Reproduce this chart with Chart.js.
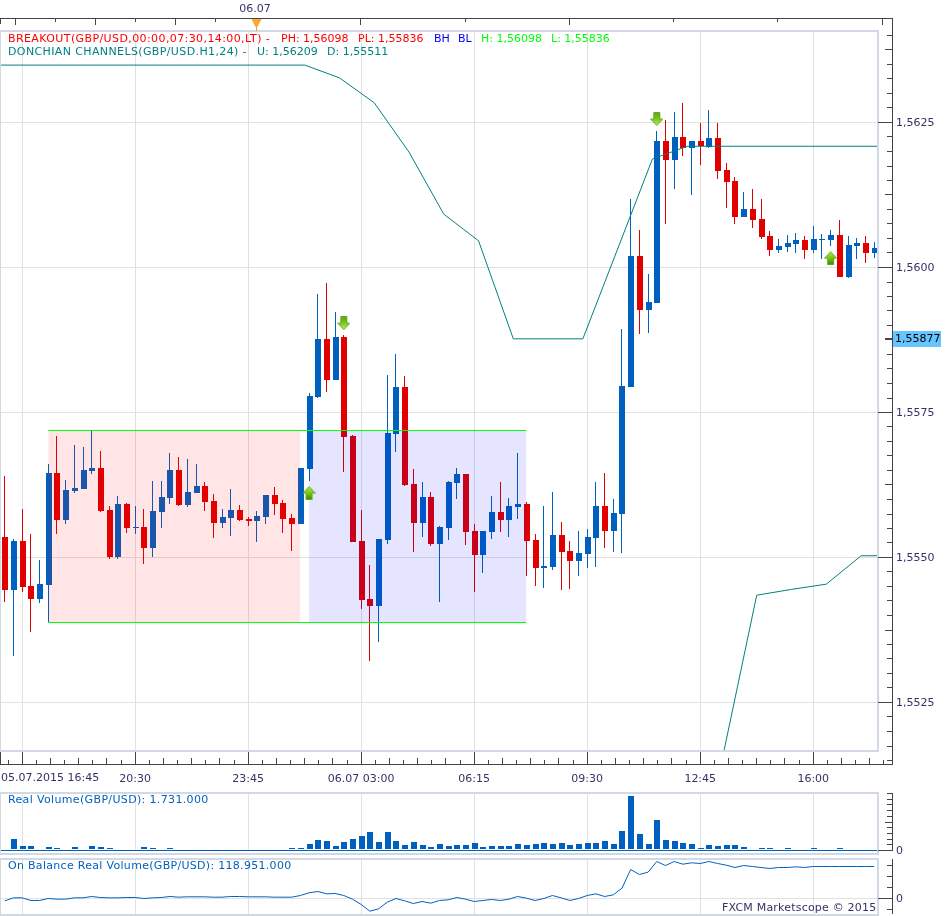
<!DOCTYPE html>
<html><head><meta charset="utf-8">
<style>html,body{margin:0;padding:0;background:#fff;width:950px;height:916px;overflow:hidden}
canvas{position:absolute;left:0;top:0}</style>
<script src="https://cdn.jsdelivr.net/npm/chart.js@4"></script>
</head><body>
<canvas id="main" width="950" height="916"></canvas>
<canvas id="vol" width="950" height="916"></canvas>
<canvas id="obv" width="950" height="916"></canvas>
<script>
const open=[1.55535,1.55444,1.55528,1.55451,1.55428,1.55452,1.55645,1.55564,1.55614,1.55618,
1.55649,1.55654,1.55582,1.55501,1.55592,1.55551,1.55552,1.55516,1.55578,1.55602,
1.55651,1.55590,1.55611,1.55623,1.55597,1.55559,1.55568,1.55582,1.55566,1.55563,
1.55570,1.55608,1.55594,1.55568,1.55557,1.55652,1.55777,1.55877,1.55806,1.55880,
1.55709,1.55528,1.55428,1.55416,1.55530,1.55713,1.55794,1.55627,1.55559,1.55604,
1.55523,1.55551,1.55628,1.55644,1.55545,1.55504,1.55544,1.55578,1.55564,1.55587,
1.55592,1.55530,1.55482,1.55483,1.55539,1.55511,1.55494,1.55506,1.55533,1.55589,
1.55545,1.55575,1.55794,1.56020,1.55927,1.55939,1.56218,1.56185,1.56225,1.56206,
1.56218,1.56208,1.56223,1.56168,1.56149,1.56087,1.56101,1.56083,1.56054,1.56030,
1.56035,1.56040,1.56047,1.56030,1.56047,1.56047,1.56056,1.55983,1.56037,1.56042,1.56025];
const high=[1.55640,1.55532,1.55583,1.55540,1.55495,1.55661,1.55709,1.55633,1.55694,1.55690,
1.55720,1.55683,1.55589,1.55606,1.55594,1.55589,1.55583,1.55632,1.55632,1.55680,
1.55673,1.55670,1.55661,1.55630,1.55609,1.55583,1.55618,1.55590,1.55570,1.55580,
1.55608,1.55621,1.55599,1.55575,1.55654,1.55783,1.55954,1.55973,1.55923,1.55884,
1.55711,1.55582,1.55487,1.55532,1.55815,1.55851,1.55813,1.55652,1.55630,1.55613,
1.55554,1.55632,1.55654,1.55644,1.55558,1.55545,1.55606,1.55630,1.55602,1.55680,
1.55595,1.55540,1.55589,1.55613,1.55561,1.55528,1.55545,1.55549,1.55630,1.55645,
1.55601,1.55894,1.56118,1.56065,1.55989,1.56235,1.56254,1.56268,1.56284,1.56218,
1.56249,1.56272,1.56249,1.56180,1.56156,1.56130,1.56135,1.56118,1.56063,1.56049,
1.56056,1.56059,1.56054,1.56071,1.56058,1.56064,1.56082,1.56054,1.56051,1.56054,1.56044];
const low=[1.55423,1.55330,1.55440,1.55371,1.55421,1.55388,1.55540,1.55557,1.55611,1.55618,
1.55644,1.55578,1.55497,1.55497,1.55542,1.55540,1.55488,1.55501,1.55551,1.55592,
1.55589,1.55587,1.55611,1.55580,1.55533,1.55551,1.55537,1.55563,1.55554,1.55526,
1.55557,1.55573,1.55542,1.55511,1.55557,1.55632,1.55775,1.55785,1.55806,1.55647,
1.55526,1.55411,1.55321,1.55354,1.55523,1.55682,1.55623,1.55509,1.55535,1.55520,
1.55423,1.55530,1.55601,1.55521,1.55440,1.55473,1.55532,1.55544,1.55535,1.55566,
1.55468,1.55451,1.55447,1.55478,1.55444,1.55445,1.55468,1.55482,1.55483,1.55516,
1.55509,1.55507,1.55794,1.55885,1.55887,1.55939,1.56075,1.56135,1.56192,1.56125,
1.56177,1.56206,1.56153,1.56102,1.56075,1.56087,1.56068,1.56049,1.56020,1.56025,
1.56026,1.56025,1.56014,1.56025,1.56014,1.56037,1.55983,1.55982,1.56014,1.56007,1.56016];
const close=[1.55444,1.55528,1.55449,1.55428,1.55454,1.55645,1.55564,1.55616,1.55620,1.55651,
1.55654,1.55580,1.55501,1.55592,1.55551,1.55552,1.55516,1.55580,1.55604,1.55651,
1.55590,1.55613,1.55623,1.55595,1.55559,1.55570,1.55582,1.55564,1.55563,1.55571,
1.55608,1.55592,1.55566,1.55557,1.55654,1.55778,1.55877,1.55806,1.55880,1.55708,
1.55526,1.55426,1.55416,1.55532,1.55714,1.55794,1.55625,1.55559,1.55604,1.55523,
1.55552,1.55630,1.55644,1.55544,1.55504,1.55545,1.55578,1.55564,1.55589,1.55592,
1.55528,1.55482,1.55485,1.55539,1.55509,1.55494,1.55507,1.55535,1.55589,1.55545,
1.55576,1.55796,1.56020,1.55927,1.55940,1.56218,1.56185,1.56225,1.56206,1.56218,
1.56210,1.56223,1.56166,1.56147,1.56087,1.56101,1.56082,1.56052,1.56030,1.56037,
1.56042,1.56047,1.56030,1.56049,1.56049,1.56056,1.55983,1.56039,1.56042,1.56025,1.56033];
const volumeM=[0.9,19.3,7.0,7.0,1.8,5.3,3.5,1.8,5.3,1.8,
7.0,5.3,3.5,1.8,1.8,1.8,5.3,3.5,1.8,3.5,
1.8,1.8,0.9,0.9,1.8,0.9,1.8,0.9,0.9,0.9,
0.9,1.8,0.9,3.5,3.5,10.5,17.5,15.8,7.0,14.0,
19.3,24.6,31.6,14.0,31.6,15.8,8.8,14.0,8.8,5.3,
10.5,7.0,8.8,8.8,12.3,5.3,7.0,7.0,7.0,10.5,
8.8,10.5,12.3,10.5,12.3,8.8,10.5,12.3,12.3,15.8,
10.5,33.3,94.7,28.1,10.5,52.6,17.5,15.8,12.3,10.5,
3.5,8.8,7.0,8.8,8.8,5.3,1.8,3.5,3.5,1.8,
3.5,0.9,0.9,3.5,1.8,0.9,3.5,1.8,1.8,1.8,1.73];
const obvM=[-8.5,2.4,2.4,-7.3,-7.3,0,-2.4,-2.4,2.4,2.4,
7.3,3.6,2.4,2.4,3.6,3.6,0,2.4,3.6,7.3,
4.8,6.1,6.1,6.1,4.8,4.8,7.3,7.3,6.1,6.1,
6.1,4.8,4.8,4.8,10.9,20.6,25.5,17.0,18.2,10.9,
-2.4,-21.8,-46.1,-37.6,-13.3,0,-8.5,-18.2,-10.9,-17.0,
-7.3,-4.8,3.6,-2.4,-10.9,-7.3,-3.6,-7.3,-2.4,7.3,
1.2,-7.3,0,10.9,2.4,-7.3,0,10.9,17.0,7.3,
13.3,37.6,105.4,87.3,95.7,134.5,120.0,134.5,124.8,129.7,
127.3,134.5,127.3,121.2,112.7,120.0,116.4,112.7,109.1,112.7,
112.7,115.1,112.7,116.4,116.4,116.4,116.4,116.4,116.4,116.4,116.4];
const upperX=[-0.55,34.5,38.5,42.5,46.5,50.5,54.5,58.5,62.5,66.5,70.5,74.5,78.5,100.45];
const upperY=[1.56349,1.56349,1.56327,1.56284,1.56199,1.56092,1.56046,1.55877,1.55877,1.55877,1.56032,1.56187,1.56209,1.56209];
const lowerX=[82.5,86.5,90.5,94.5,98.5,100.45];
const lowerY=[1.55150,1.55435,1.55445,1.55454,1.55503,1.55503];
const rangeHigh=1.55719, rangeLow=1.553879;
const asianSpan=[5,34], londonSpan=[35,60], breakoutSpan=[5,60];
const upArrows=[[35,1.55611],[95,1.56016]];
const downArrows=[[39,1.55904],[75,1.56256]];
const majorIdx=[2,15,28,41,54,67,80,93];
const timeLabels=['05.07.2015 16:45','20:30','23:45','06.07 03:00','06:15','09:30','12:45','16:00'];
const lastPrice='1,55877';

const FONT="11px 'DejaVu Sans'", NAVY='#333366', AX='#444444', FRAME='#d2d8e4', GRID='#e1e1e1';
const BLUE='#0060c0', RED='#e00000', TEAL='#008080', LIME='#00ff00';
const indices=open.map((_,i)=>i);
const candleColor=indices.map(i=>close[i]<open[i]?RED:BLUE);
Chart.defaults.font.family="'DejaVu Sans'";Chart.defaults.font.size=11;

function arrowCanvas(up){
  const c=document.createElement('canvas');c.width=13;c.height=14;const g=c.getContext('2d');
  const pts=up?[[6.5,0.5],[12.5,7],[9.5,7],[9.5,13.5],[3.5,13.5],[3.5,7],[0.5,7]]
              :[[3.5,0.5],[9.5,0.5],[9.5,7],[12.5,7],[6.5,13.5],[0.5,7],[3.5,7]];
  const lg=g.createLinearGradient(0,0,0,14);
  if(up){lg.addColorStop(0,'#b8ec50');lg.addColorStop(0.55,'#70c010');lg.addColorStop(1,'#2c8c00');}
  else{lg.addColorStop(0,'#5ca410');lg.addColorStop(0.5,'#7cc820');lg.addColorStop(1,'#c8f070');}
  g.beginPath();pts.forEach((p,i)=>i?g.lineTo(p[0],p[1]):g.moveTo(p[0],p[1]));g.closePath();
  g.fillStyle=lg;g.fill();g.strokeStyle='#68a820';g.lineWidth=1;g.stroke();
  return c;
}
function rect(c,x,y,w,h,col){c.fillStyle=col;c.fillRect(x,y,w,h);}
function txt(c,s,x,y,col,align,sp){c.font=FONT;c.letterSpacing=(sp||0)+'px';c.fillStyle=col;c.textBaseline='middle';c.textAlign=align||'left';c.fillText(s,x,y);c.letterSpacing='0px';}
function frame(c,top,bottom){
  rect(c,0,top,879,2,FRAME);rect(c,0,bottom,879,2,FRAME);
  rect(c,0,top,1,bottom-top+2,FRAME);rect(c,877,top,2,bottom-top+2,FRAME);
}
const snapCandles={id:'snap',afterDatasetsUpdate(ch){
  ch.data.datasets.forEach((d,di)=>{
    if(!d.snap)return;
    ch.getDatasetMeta(di).data.forEach(el=>{
      const fx=Math.floor(el.x);
      if(d.snap==='wick'){el.x=fx+0.5;}else{el.x=fx+1;}
      if(d.snap==='vol'){el.y=Math.round(el.y-0.5);el.base=Math.round(el.base-0.5);}
      else{
        let a=Math.round(el.y),b=Math.round(el.base);
        if(a===b)b=a+1;
        el.y=a;el.base=b;
      }
      el.height=el.base-el.y;
    });
  });
}};
function xScale(height,labels){
  return {type:'linear',min:-0.55,max:100.45,bounds:'data',offset:false,
    grid:{color:GRID,drawTicks:false,offset:false,lineWidth:1},
    border:{display:false},
    afterBuildTicks:s=>{s.ticks=majorIdx.map(v=>({value:v}));},
    afterFit:s=>{s.height=height;s.paddingLeft=0;s.paddingRight=0;},
    ticks:{display:!!labels,autoSkip:false,maxRotation:0,padding:22,color:NAVY,font:{family:"'DejaVu Sans'",size:11},
      callback:v=>{const k=majorIdx.indexOf(v);return k>0?timeLabels[k]:'';}}
  };
}
function yScale(min,max,values,label,gridFn){
  return {type:'linear',position:'right',min,max,bounds:'data',
    afterBuildTicks:s=>{s.ticks=values.map(v=>({value:v}));},
    afterFit:s=>{s.width=72;s.paddingTop=0;s.paddingBottom=0;},
    border:{display:false},
    grid:{color:c=>gridFn(c.tick.value),tickLength:14,tickColor:'transparent',lineWidth:1},
    ticks:{autoSkip:false,padding:4,labelOffset:1,color:NAVY,font:{family:"'DejaVu Sans'",size:11},callback:label}
  };
}
const isMajorPrice=v=>Math.round(v*100000)%250===0;
const priceTicks=[];for(let k=6206;k<=6256;k++)priceTicks.push(k*0.00025);

const mainDecor={id:'mainDecor',afterDraw(ch){
  const c=ch.ctx,x=ch.scales.x,y=ch.scales.y;
  c.save();
  frame(c,30,750);
  // top ruler
  rect(c,0,18,892,1,AX);rect(c,892,18,1,747,AX);rect(c,0,18,1,6,AX);
  [[15,6],[55,3],[95,6],[135,3],[175,6],[215,3],[360,6],[465,3],[569,6],[673,3],[777,3],[882,6]].forEach(t=>rect(c,t[0],19,1,t[1],AX));
  // event marker
  const mx=Math.floor(x.getPixelForValue(28.9));
  c.fillStyle='#ffa733';c.beginPath();c.moveTo(mx-4.5,19);c.lineTo(mx+5.5,19);c.lineTo(mx+1.5,27);c.lineTo(mx-0.5,27);c.closePath();c.fill();
  rect(c,mx,27,1,4,'#e6a040');
  txt(c,'06.07',mx-1,9,NAVY,'center');
  // bottom ruler
  rect(c,0,764,892,1,AX);rect(c,0,752,1,12,AX);
  for(let k=-1;k<=63;k++){
    const px=Math.floor(x.getPixelForValue(2+k*1.625));
    if(px<0||px>888)continue;
    const m=((k%8)+8)%8;
    const h=m===0?12:(m%2===0?6:4);
    rect(c,px,764-h,1,h,AX);
  }
  // price ruler ticks
  y.ticks.forEach(t=>{
    const py=Math.floor(y.getPixelForValue(t.value));
    if(py<33||py>763)return;
    const n=Math.round(t.value*100000);
    const len=n%250===0?14:(n%125===0?7:5);
    rect(c,892-len,py,len,1,AX);
  });
  // last price tag
  const tag=Math.floor(y.getPixelForValue(1.55877));
  rect(c,885,tag,7,1,AX);
  rect(c,893,331,48,16,'#66c4ff');
  txt(c,lastPrice,895,339.5,'#000000');
  // legends
  txt(c,'BREAKOUT(GBP/USD,00:00,07:30,14:00,LT) -',8,39,'#ff0000','left',0.4);
  txt(c,'PH: 1,56098',281,39,'#ff0000');txt(c,'PL: 1,55836',358,39,'#ff0000');
  txt(c,'BH',434,39,'#0000ff');txt(c,'BL',458,39,'#0000ff');
  txt(c,'H: 1,56098',481,39,LIME);txt(c,'L: 1,55836',551,39,LIME);
  txt(c,'DONCHIAN CHANNELS(GBP/USD.H1,24) -',8,52,TEAL,'left',0.38);
  txt(c,'U: 1,56209',257,52,TEAL);txt(c,'D: 1,55511',327,52,TEAL);
  // first time label, kept clear of the left edge
  txt(c,timeLabels[0],1,778,NAVY);
  c.restore();
}};
const pts=(xs,ys)=>xs.map((v,i)=>({x:v,y:ys[i]}));
const span=(s,v)=>s.map(i=>({x:i,y:v}));
const PXU=1/58000;
new Chart(document.getElementById('main'),{
  type:'bar',
  plugins:[snapCandles,mainDecor],
  data:{datasets:[
    {snap:'wick',order:6,data:indices.map(i=>({x:i,y:[low[i],high[i]]})),backgroundColor:candleColor,barThickness:1,grouped:false,inflateAmount:0},
    {snap:'body',order:5,data:indices.map(i=>({x:i,y:[Math.min(open[i],close[i]),Math.max(open[i],close[i])]})),backgroundColor:candleColor,barThickness:6,grouped:false,inflateAmount:0},
    {type:'line',order:4,data:span(asianSpan,rangeHigh),fill:{value:rangeLow},backgroundColor:'rgba(255,0,0,0.1)',borderWidth:0,borderColor:'transparent',pointRadius:0},
    {type:'line',order:4,data:span(londonSpan,rangeHigh),fill:{value:rangeLow},backgroundColor:'rgba(0,0,255,0.1)',borderWidth:0,borderColor:'transparent',pointRadius:0},
    {type:'line',order:3,data:span(breakoutSpan,rangeHigh),borderColor:LIME,borderWidth:1,pointRadius:0,fill:false},
    {type:'line',order:3,data:span(breakoutSpan,rangeLow),borderColor:LIME,borderWidth:1,pointRadius:0,fill:false},
    {type:'line',order:2,data:pts(upperX,upperY),borderColor:TEAL,borderWidth:1,pointRadius:0,tension:0,fill:false},
    {type:'line',order:2,data:pts(lowerX,lowerY),borderColor:TEAL,borderWidth:1,pointRadius:0,tension:0,fill:false},
    {type:'line',order:1,showLine:false,data:upArrows.map(a=>({x:a[0],y:a[1]})),pointStyle:arrowCanvas(true),pointRadius:7},
    {type:'line',order:1,showLine:false,data:downArrows.map(a=>({x:a[0],y:a[1]})),pointStyle:arrowCanvas(false),pointRadius:7}
  ]},
  options:{responsive:false,animation:false,devicePixelRatio:1,
    layout:{autoPadding:false,padding:{top:31,left:0,right:0,bottom:0}},
    plugins:{legend:{display:false},tooltip:{enabled:false},title:{display:false}},
    scales:{x:xScale(165,true),
      y:yScale(1.56-(751-267.5)*PXU,1.56+(267.5-31)*PXU,priceTicks,
        v=>isMajorPrice(v)?v.toFixed(4).replace('.',','):'',
        v=>isMajorPrice(v)?GRID:'transparent')}
  }
});

const volTicks=[0,10,20,30,40,50,60,70,80,90,100];
const volDecor={id:'volDecor',afterDraw(ch){
  const c=ch.ctx,y=ch.scales.y;c.save();
  frame(c,792,853);
  rect(c,892,793,1,58,AX);
  y.ticks.forEach(t=>{
    const py=Math.floor(y.getPixelForValue(t.value));
    const len=t.value===0?14:(t.value===50?7:5);
    rect(c,892-len,py,len,1,AX);
  });
  txt(c,'Real Volume(GBP/USD): 1.731.000',8,800,BLUE,'left',0.35);
  c.restore();
}};
new Chart(document.getElementById('vol'),{
  type:'bar',plugins:[snapCandles,volDecor],
  data:{datasets:[{snap:'vol',data:indices.map(i=>({x:i,y:volumeM[i]})),backgroundColor:BLUE,barThickness:6,grouped:false,inflateAmount:0}]},
  options:{responsive:false,animation:false,devicePixelRatio:1,
    layout:{autoPadding:false,padding:{top:793,left:0,right:0,bottom:0}},
    plugins:{legend:{display:false},tooltip:{enabled:false}},
    scales:{x:xScale(65,false),
      y:yScale(-0.88,100.88,volTicks,v=>v===0?'0':'',v=>v===0?BLUE:'transparent')}
  }
});

const obvTicks=[-40,0,40,80,120];
const obvDecor={id:'obvDecor',afterDraw(ch){
  const c=ch.ctx,y=ch.scales.y;c.save();
  frame(c,858,914);
  rect(c,892,859,1,55,AX);
  y.ticks.forEach(t=>{
    const py=Math.floor(y.getPixelForValue(t.value));
    const len=t.value===0?14:5;
    rect(c,892-len,py,len,1,AX);
  });
  txt(c,'On Balance Real Volume(GBP/USD): 118.951.000',8,866,BLUE,'left',0.3);
  txt(c,'FXCM Marketscope © 2015',722,908,NAVY,'left',0.2);
  c.restore();
}};
new Chart(document.getElementById('obv'),{
  type:'line',plugins:[obvDecor],
  data:{datasets:[{data:indices.map(i=>({x:i,y:obvM[i]})),borderColor:BLUE,borderWidth:1,pointRadius:0,tension:0,fill:false}]},
  options:{responsive:false,animation:false,devicePixelRatio:1,
    layout:{autoPadding:false,padding:{top:859,left:0,right:0,bottom:0}},
    plugins:{legend:{display:false},tooltip:{enabled:false}},
    scales:{x:xScale(2,false),
      y:yScale(-15.5/0.275,39.5/0.275,obvTicks,v=>v===0?'0':'',v=>v===0?GRID:'transparent')}
  }
});
</script>
</body></html>
